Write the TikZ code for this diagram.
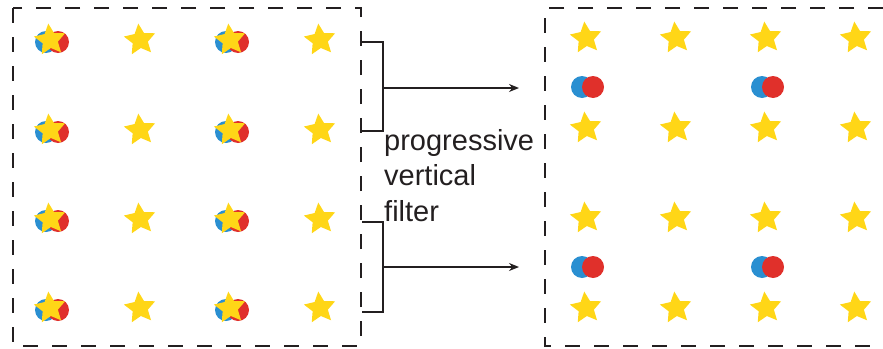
\documentclass[tikz,border=0pt]{standalone}
\usepackage{xcolor}
\usepackage{fontspec}
\setmainfont{Liberation Sans}
\usetikzlibrary{positioning, arrows.meta, shapes.geometric}
\definecolor{stargold}{HTML}{FFD617}
\definecolor{dotblue}{HTML}{2A8FD1}
\definecolor{dotred}{HTML}{E0302B}
\definecolor{inkgray}{HTML}{231F20}

\tikzset{
  starmark/.style={star, star points=5, star point ratio=2.05, fill=stargold,
                   inner sep=0pt, minimum size=33pt, rotate=6},
  bluedot/.style={circle, fill=dotblue, inner sep=0pt, minimum size=22pt},
  reddot/.style={circle, fill=dotred, inner sep=0pt, minimum size=22pt},
  framebox/.style={draw=inkgray, line width=1.4pt, dash pattern=on 15pt off 14pt},
  bracketline/.style={draw=inkgray, line width=1.7pt},
}

\begin{document}
\begin{tikzpicture}[x=1pt, y=-1pt]
    \useasboundingbox (0,0) rectangle (883,348);

    % dashed frames
    \draw[framebox] (13,8) rectangle (361,346);
    \draw[framebox] (883,8) -- (545,8) -- (545,346) -- (883,346);

    % left grid: two circles under the stars of columns 1 and 3
    \foreach \r/\y in {1/40, 2/130, 3/219, 4/308}{
      \foreach \c/\x in {1/50, 3/230}{
        \node[bluedot] (lb-\r-\c) at (\x-4,\y+2) {};
        \node[reddot] (lr-\r-\c) at (\x+8,\y+2) {};
      }
      \foreach \c/\x in {1/50, 2/140, 3/230, 4/320}
        \node[starmark] (ls-\r-\c) at (\x,\y) {};
    }

    % right grid
    \foreach \r/\y in {1/38, 2/128, 3/218, 4/308}
      \foreach \c/\x in {1/586, 2/676, 3/766, 4/856}
        \node[starmark] (rs-\r-\c) at (\x,\y) {};
    \foreach \r/\y in {1/87, 2/267}
      \foreach \c/\x in {1/582, 3/762}{
        \node[bluedot] (rb-\r-\c) at (\x,\y) {};
        \node[reddot] (rr-\r-\c) at (\x+11,\y) {};
      }

    % brackets
    \coordinate (topA) at (362,42);
    \coordinate (topB) at (383,42);
    \coordinate (topC) at (383,131);
    \coordinate (topD) at (362,131);
    \coordinate (topmid) at (383,88);
    \coordinate (topend) at (519,88);
    \coordinate (botA) at (362,222);
    \coordinate (botB) at (383,222);
    \coordinate (botC) at (383,312);
    \coordinate (botD) at (362,312);
    \coordinate (botmid) at (383,267);
    \coordinate (botend) at (519,267);
    \draw[bracketline] (topA) -- (topB) -- (topC) -- (topD);
    \draw[bracketline] (botA) -- (botB) -- (botC) -- (botD);
    \draw[bracketline, line width=1.5pt, -{Stealth[length=10pt, width=8pt]}] (topmid) -- (topend);
    \draw[bracketline, line width=1.5pt, -{Stealth[length=10pt, width=8pt]}] (botmid) -- (botend);

    \node[anchor=north west, inner sep=0pt, align=left, text=inkgray,
          font=\fontsize{29}{35.5}\selectfont] (label) at (384,129)
      {progressive\\vertical\\filter};
\end{tikzpicture}
\end{document}
